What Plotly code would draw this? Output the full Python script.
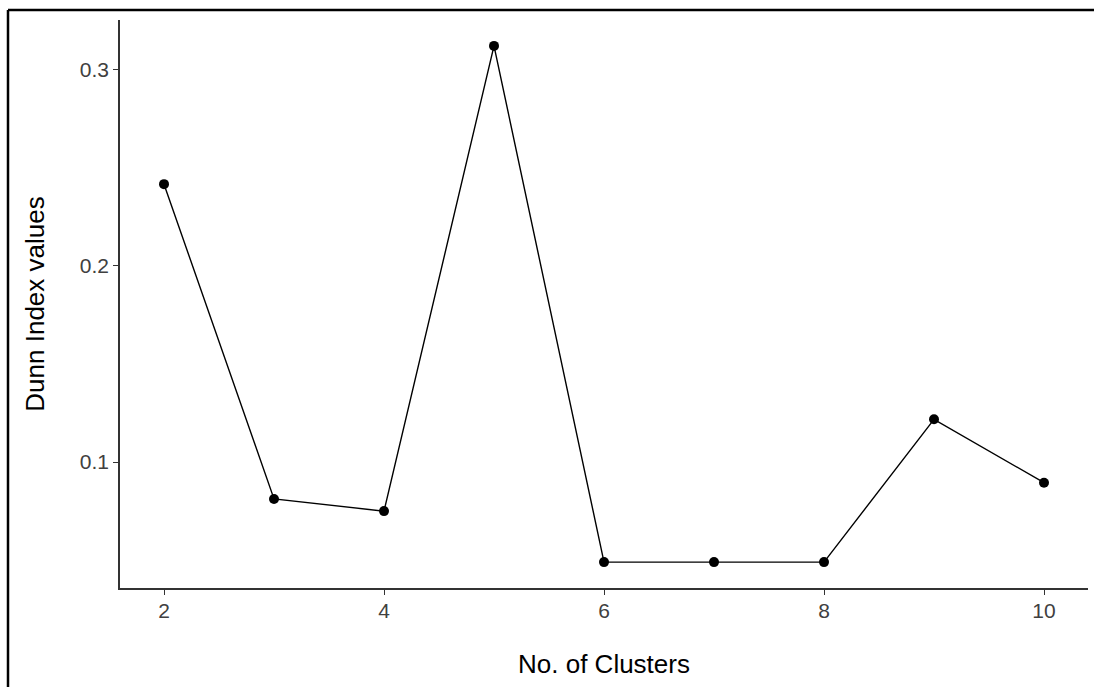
import plotly.graph_objects as go

clusters = [2, 3, 4, 5, 6, 7, 8, 9, 10]
dunn_values = [0.2417, 0.0812, 0.0750, 0.3122, 0.0490, 0.0490, 0.0490, 0.1218, 0.0895]
x_ticks = [2, 4, 6, 8, 10]
y_ticks = [0.1, 0.2, 0.3]
y_tick_labels = ["0.1", "0.2", "0.3"]

L, R, T, B = 120, 1088, 20, 588
W, H = 1094, 687

fig = go.Figure()
fig.add_trace(go.Scatter(
    x=clusters, y=dunn_values, mode="lines+markers",
    line=dict(color="black", width=1.4),
    marker=dict(color="black", size=10),
    showlegend=False, hoverinfo="x+y",
))

axis_font = dict(family="Liberation Sans, Arial, sans-serif", size=21, color="#404040")
title_font = dict(family="Liberation Sans, Arial, sans-serif", size=26, color="black")

fig.update_layout(
    width=W, height=H,
    margin=dict(l=L, r=W - R, t=T, b=H - B),
    paper_bgcolor="white", plot_bgcolor="white",
    xaxis=dict(
        range=[1.6, 10.4], tickvals=x_ticks, ticktext=[str(v) for v in x_ticks],
        showgrid=False, zeroline=False, showline=True, linecolor="#333333", linewidth=1.5,
        ticks="outside", ticklen=5, tickcolor="#333333", tickwidth=1,
        tickfont=axis_font, ticklabelstandoff=-2,
        title=dict(text="No. of Clusters", font=title_font, standoff=34),
    ),
    yaxis=dict(
        range=[0.0358, 0.3254], tickvals=y_ticks, ticktext=y_tick_labels,
        showgrid=False, zeroline=False, showline=True, linecolor="#333333", linewidth=1.5,
        ticks="outside", ticklen=5, tickcolor="#333333", tickwidth=1,
        tickfont=axis_font,
        title=dict(text="Dunn Index values", font=title_font, standoff=28),
    ),
)

pw, ph = R - L, B - T
def px_x(p):
    return (p - L) / pw
def px_y(p):
    return (B - p) / ph

# outer image frame (left and top edges)
fig.add_shape(type="line", xref="paper", yref="paper",
              x0=px_x(8), x1=px_x(W + 5), y0=px_y(10), y1=px_y(10),
              line=dict(color="black", width=2.5))
fig.add_shape(type="line", xref="paper", yref="paper",
              x0=px_x(8), x1=px_x(8), y0=px_y(10), y1=px_y(H + 5),
              line=dict(color="black", width=2.5))

fig.write_html("out.html")
